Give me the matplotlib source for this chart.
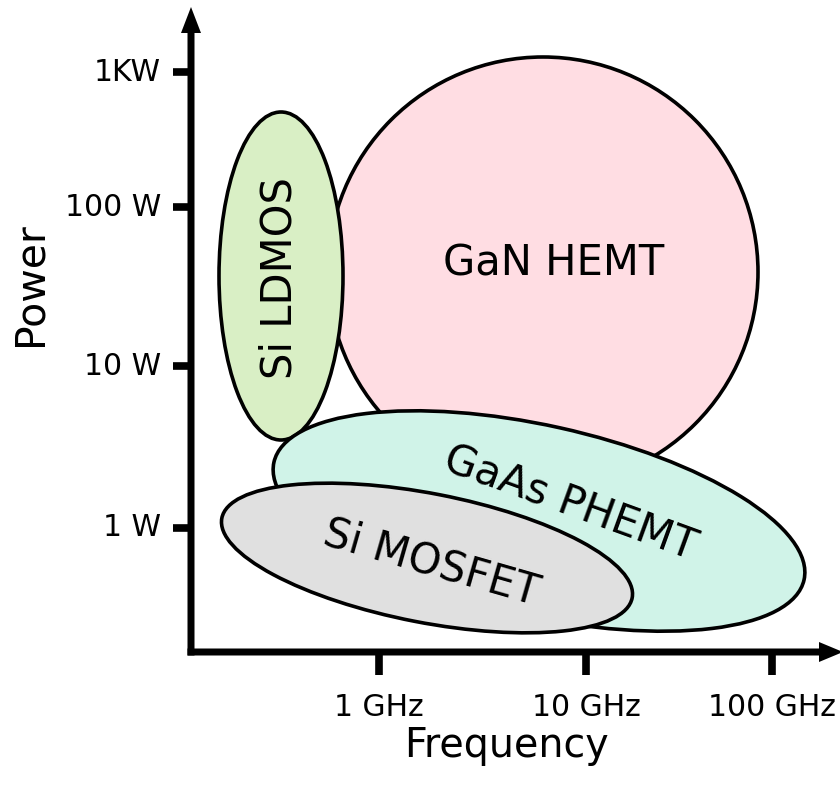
import matplotlib
matplotlib.use("Agg")
import matplotlib.pyplot as plt
from matplotlib.patches import Ellipse

# schematic canvas: one unit = one pixel, y grows downward
techs = ['GaN HEMT', 'Si LDMOS', 'GaAs PHEMT', 'Si MOSFET']
centers_x = [543, 281, 539, 427]
centers_y = [272, 276, 521, 558]
widths = [430, 124, 543, 418]
heights = [430, 328, 191, 129]
angles = [0, 0, 12.5, 11]
fills = ['#ffdde3', '#d9efc5', '#d0f3e8', '#e0e0e0']

label_x = [554, 279, 570, 431]
label_y = [264, 278, 504, 563]
label_rot = [0, 90, -20, -16]

power_labels = ['1 W', '10 W', '100 W', '1KW']
power_pos = [528, 366, 207, 72]
freq_labels = ['1 GHz', '10 GHz', '100 GHz']
freq_pos = [379, 586, 772]

fig = plt.figure(figsize=(8.4, 7.89), dpi=100)
ax = fig.add_axes([0, 0, 1, 1])
ax.set_xlim(0, 840)
ax.set_ylim(789, 0)
ax.axis('off')

# regions
for i in range(len(techs)):
    e = Ellipse((centers_x[i], centers_y[i]), widths[i], heights[i], angle=angles[i],
                facecolor=fills[i], edgecolor='black', lw=2.6, zorder=2 + i)
    ax.add_patch(e)
    ax.text(label_x[i], label_y[i], techs[i], rotation=label_rot[i], rotation_mode='anchor',
            ha='center', va='center', fontsize=30, zorder=10)

# axes with arrow heads
x0, y0 = 191, 652
ax.arrow(x0, y0 + 3.5, 0, 7 - (y0 + 3.5), width=7, head_width=20, head_length=26,
         length_includes_head=True, fc='black', ec='none', zorder=20)
ax.arrow(x0 - 3.5, y0, 843 - (x0 - 3.5), 0, width=7, head_width=20, head_length=24,
         length_includes_head=True, fc='black', ec='none', zorder=20)

for lab, p in zip(power_labels, power_pos):
    ax.plot([173, x0], [p, p], color='black', lw=5.5, solid_capstyle='butt', zorder=20)
    ax.text(161, p, lab, ha='right', va='center', fontsize=21.5)

for lab, p in zip(freq_labels, freq_pos):
    ax.plot([p, p], [y0, 675], color='black', lw=5.5, solid_capstyle='butt', zorder=20)
    ax.text(p, 707, lab, ha='center', va='center', fontsize=21.5)

ax.text(507, 746, 'Frequency', ha='center', va='center', fontsize=28.5)
ax.text(31, 284, 'Power', ha='center', va='center', rotation=90, fontsize=29.5)

fig.savefig('out.png', dpi=100)
